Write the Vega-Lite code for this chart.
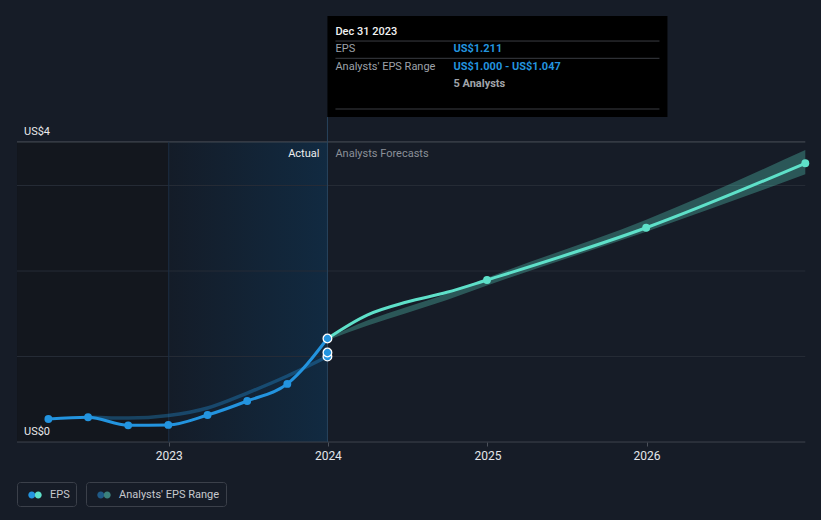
{
  "$schema": "https://vega.github.io/schema/vega-lite/v6.json",
  "autosize": {"type": "fit", "contains": "padding"},
  "width": 821,
  "height": 520,
  "padding": 0,
  "background": "#161c27",
  "data": {"values": [{}]},
  "datasets": {
    "eps": [
      {"date": "2022-03-31", "eps": 0.27},
      {"date": "2022-06-30", "eps": 0.29},
      {"date": "2022-09-30", "eps": 0.195},
      {"date": "2022-12-31", "eps": 0.2},
      {"date": "2023-03-31", "eps": 0.316},
      {"date": "2023-06-30", "eps": 0.48},
      {"date": "2023-09-30", "eps": 0.68},
      {"date": "2023-12-31", "eps": 1.211}
    ],
    "forecast": [
      {"date": "2023-12-31", "eps": 1.211, "low": 1.19, "high": 1.215},
      {"date": "2024-03-31", "eps": 1.485, "low": 1.36, "high": 1.42},
      {"date": "2024-06-30", "eps": 1.637, "low": 1.51, "high": 1.58},
      {"date": "2024-09-30", "eps": 1.751, "low": 1.66, "high": 1.735},
      {"date": "2024-12-31", "eps": 1.895, "low": 1.83, "high": 1.92},
      {"date": "2025-12-31", "eps": 2.506, "low": 2.46, "high": 2.6},
      {"date": "2026-12-31", "eps": 3.26, "low": 3.131, "high": 3.415}
    ],
    "pastEstimate": [
      {"date": "2022-06-30", "est": 0.29},
      {"date": "2022-09-30", "est": 0.28},
      {"date": "2022-12-31", "est": 0.31},
      {"date": "2023-03-31", "est": 0.398},
      {"date": "2023-06-30", "est": 0.573},
      {"date": "2023-09-30", "est": 0.772},
      {"date": "2023-12-31", "est": 1.0}
    ],
    "decPoints": [
      {"date": "2023-12-31", "v": 1.0},
      {"date": "2023-12-31", "v": 1.047},
      {"date": "2023-12-31", "v": 1.211}
    ],
    "grid": [{"v": 1}, {"v": 2}, {"v": 3}],
    "yLabels": [{"v": 3.51, "label": "US$4"}, {"v": 0, "label": "US$0"}],
    "tooltip": [
      {"date": "2023-12-31", "title": "Dec 31 2023", "epsLabel": "EPS", "epsValue": "US$1.211", "rangeLabel": "Analysts' EPS Range", "rangeValue": "US$1.000 - US$1.047", "analysts": "5 Analysts", "actual": "Actual", "forecasts": "Analysts Forecasts"}
    ]
  },
  "layer": [
    {
      "mark": {"type": "rect", "color": "#13171e"},
      "encoding": {
        "x": {"datum": {"year": 2022, "month": 1, "date": 18, "utc": true}, "type": "temporal", "scale": {"type": "utc", "domain": [{"year": 2021, "month": 12, "date": 10, "utc": true}, {"year": 2027, "month": 2, "date": 5, "utc": true}], "nice": false}, "axis": {"title": null, "values": [{"year": 2023, "month": 1, "date": 1, "utc": true}, {"year": 2024, "month": 1, "date": 1, "utc": true}, {"year": 2025, "month": 1, "date": 1, "utc": true}, {"year": 2026, "month": 1, "date": 1, "utc": true}], "format": "%Y", "domain": false, "grid": false, "offset": -78, "tickSize": 4, "tickColor": "#4b505a", "labelColor": "#e4e6ea", "labelFont": "Roboto", "labelFontSize": 12, "labelPadding": 4, "labelFlush": false, "labelOverlap": false}},
        "x2": {"datum": {"year": 2023, "month": 1, "date": 1, "utc": true}},
        "y": {"datum": 0, "type": "quantitative", "scale": {"domain": [-0.912, 5.17], "nice": false, "zero": false}, "axis": null},
        "y2": {"datum": 3.51}
      }
    },
    {
      "mark": {"type": "rect", "color": {"gradient": "linear", "x1": 0, "y1": 0, "x2": 1, "y2": 0, "stops": [{"offset": 0, "color": "#141c28"}, {"offset": 1, "color": "#112a41"}]}},
      "encoding": {
        "x": {"datum": {"year": 2023, "month": 1, "date": 1, "utc": true}, "type": "temporal"},
        "x2": {"datum": {"year": 2023, "month": 12, "date": 31, "utc": true}},
        "y": {"datum": 0, "type": "quantitative"},
        "y2": {"datum": 3.51}
      }
    },
    {
      "data": {"name": "grid"},
      "mark": {"type": "rule", "color": "#262c36", "strokeWidth": 1},
      "encoding": {
        "x": {"datum": {"year": 2022, "month": 1, "date": 18, "utc": true}, "type": "temporal"},
        "x2": {"datum": {"year": 2026, "month": 12, "date": 31, "utc": true}},
        "y": {"field": "v", "type": "quantitative"}
      }
    },
    {
      "mark": {"type": "rule", "color": "#4b5059", "strokeWidth": 1},
      "encoding": {
        "x": {"datum": {"year": 2022, "month": 1, "date": 18, "utc": true}, "type": "temporal"},
        "x2": {"datum": {"year": 2026, "month": 12, "date": 31, "utc": true}},
        "y": {"datum": 3.51, "type": "quantitative"}
      }
    },
    {
      "mark": {"type": "rule", "color": "#3f444e", "strokeWidth": 1},
      "encoding": {
        "x": {"datum": {"year": 2022, "month": 1, "date": 18, "utc": true}, "type": "temporal"},
        "x2": {"datum": {"year": 2026, "month": 12, "date": 31, "utc": true}},
        "y": {"datum": 0, "type": "quantitative"}
      }
    },
    {
      "mark": {"type": "rule", "color": "#1c2f43", "strokeWidth": 1},
      "encoding": {
        "x": {"datum": {"year": 2023, "month": 1, "date": 1, "utc": true}, "type": "temporal"},
        "y": {"datum": 0, "type": "quantitative"},
        "y2": {"datum": 3.51}
      }
    },
    {
      "mark": {"type": "rule", "color": "#28435d", "strokeWidth": 1},
      "encoding": {
        "x": {"datum": {"year": 2023, "month": 12, "date": 31, "utc": true}, "type": "temporal"},
        "y": {"datum": 0, "type": "quantitative"},
        "y2": {"datum": 3.801}
      }
    },
    {
      "data": {"name": "forecast"},
      "mark": {"type": "area", "interpolate": "monotone", "fill": "#5ee0c9", "fillOpacity": 0.3},
      "encoding": {
        "x": {"field": "date", "type": "temporal"},
        "y": {"field": "low", "type": "quantitative"},
        "y2": {"field": "high"}
      }
    },
    {
      "data": {"name": "pastEstimate"},
      "mark": {"type": "line", "interpolate": "monotone", "opacity": 0.35, "strokeWidth": 3.5},
      "encoding": {
        "x": {"field": "date", "type": "temporal"},
        "y": {"field": "est", "type": "quantitative"},
        "stroke": {
          "datum": "Analysts' EPS Range",
          "scale": {"domain": ["Analysts' EPS Range"], "range": ["#2394df"]},
          "legend": {
            "title": null, "orient": "none", "legendX": 86, "legendY": 482,
            "labelExpr": "datum.label + '\u00a0\u00a0'",
            "symbolOpacity": 1,
            "encode": {"symbols": {"update": {
              "fill": {"value": {"gradient": "linear", "x1": 0, "y1": 0, "x2": 1, "y2": 0, "stops": [{"offset": 0, "color": "#1f5a87"}, {"offset": 0.5, "color": "#1f5a87"}, {"offset": 0.5, "color": "#3b817c"}, {"offset": 1, "color": "#3b817c"}]}},
              "opacity": {"value": 1}, "fillOpacity": {"value": 1}
            }}}
          }
        }
      }
    },
    {
      "data": {"name": "eps"},
      "mark": {"type": "line", "interpolate": "monotone", "strokeWidth": 3},
      "encoding": {
        "x": {"field": "date", "type": "temporal"},
        "y": {"field": "eps", "type": "quantitative"},
        "color": {
          "datum": "EPS",
          "scale": {"domain": ["EPS"], "range": ["#2394df"]},
          "legend": {
            "title": null, "orient": "none", "legendX": 17, "legendY": 482,
            "labelExpr": "datum.label + '\u00a0\u00a0'",
            "encode": {"symbols": {"update": {
              "fill": {"value": {"gradient": "linear", "x1": 0, "y1": 0, "x2": 1, "y2": 0, "stops": [{"offset": 0, "color": "#2394df"}, {"offset": 0.5, "color": "#2394df"}, {"offset": 0.5, "color": "#5ee0c9"}, {"offset": 1, "color": "#5ee0c9"}]}},
              "opacity": {"value": 1}, "fillOpacity": {"value": 1}
            }}}
          }
        }
      }
    },
    {
      "data": {"name": "forecast"},
      "mark": {"type": "line", "interpolate": "monotone", "strokeWidth": 3, "color": "#5ee0c9"},
      "encoding": {
        "x": {"field": "date", "type": "temporal"},
        "y": {"field": "eps", "type": "quantitative"}
      }
    },
    {
      "data": {"name": "eps"},
      "mark": {"type": "point", "filled": true, "size": 62, "opacity": 1, "color": "#2394df"},
      "encoding": {
        "x": {"field": "date", "type": "temporal"},
        "y": {"field": "eps", "type": "quantitative"}
      }
    },
    {
      "data": {"name": "forecast"},
      "transform": [{"filter": "+toDate(datum.date) >= utc(2024, 11, 30)"}],
      "mark": {"type": "point", "filled": true, "size": 62, "opacity": 1, "color": "#5ee0c9"},
      "encoding": {
        "x": {"field": "date", "type": "temporal"},
        "y": {"field": "eps", "type": "quantitative"}
      }
    },
    {
      "data": {"name": "decPoints"},
      "mark": {"type": "point", "filled": true, "size": 75, "opacity": 1, "fill": "#2394df", "stroke": "#ffffff", "strokeWidth": 1.3, "strokeOpacity": 1},
      "encoding": {
        "x": {"field": "date", "type": "temporal"},
        "y": {"field": "v", "type": "quantitative"}
      }
    },
    {
      "data": {"name": "yLabels"},
      "mark": {"type": "text", "align": "left", "baseline": "bottom", "dx": 7, "dy": -5, "font": "Roboto", "fontSize": 11, "color": "#e8e9eb"},
      "encoding": {
        "x": {"datum": {"year": 2022, "month": 1, "date": 18, "utc": true}, "type": "temporal"},
        "y": {"field": "v", "type": "quantitative"},
        "text": {"field": "label"}
      }
    },
    {
      "data": {"name": "tooltip"},
      "mark": {"type": "text", "align": "right", "baseline": "middle", "dx": -8, "dy": 12, "font": "Roboto", "fontSize": 11, "color": "#eceef0"},
      "encoding": {
        "x": {"field": "date", "type": "temporal"},
        "y": {"datum": 3.51, "type": "quantitative"},
        "text": {"field": "actual"}
      }
    },
    {
      "data": {"name": "tooltip"},
      "mark": {"type": "text", "align": "left", "baseline": "middle", "dx": 8, "dy": 12, "font": "Roboto", "fontSize": 11, "color": "#8b9098"},
      "encoding": {
        "x": {"field": "date", "type": "temporal"},
        "y": {"datum": 3.51, "type": "quantitative"},
        "text": {"field": "forecasts"}
      }
    },
    {
      "data": {"name": "tooltip"},
      "mark": {"type": "rect", "color": "#000000", "x2Offset": 340},
      "encoding": {
        "x": {"field": "date", "type": "temporal"},
        "x2": {"field": "date"},
        "y": {"datum": 4.982, "type": "quantitative"},
        "y2": {"datum": 3.801}
      }
    },
    {
      "data": {"name": "tooltip"},
      "mark": {"type": "rule", "color": "#3a3d43", "strokeWidth": 1, "xOffset": 8, "x2Offset": 332},
      "encoding": {
        "x": {"field": "date", "type": "temporal"},
        "x2": {"field": "date"},
        "y": {"datum": 4.69, "type": "quantitative"}
      }
    },
    {
      "data": {"name": "tooltip"},
      "mark": {"type": "rule", "color": "#3a3d43", "strokeWidth": 1, "xOffset": 8, "x2Offset": 332},
      "encoding": {
        "x": {"field": "date", "type": "temporal"},
        "x2": {"field": "date"},
        "y": {"datum": 4.488, "type": "quantitative"}
      }
    },
    {
      "data": {"name": "tooltip"},
      "mark": {"type": "rule", "color": "#3a3d43", "strokeWidth": 1, "xOffset": 8, "x2Offset": 332},
      "encoding": {
        "x": {"field": "date", "type": "temporal"},
        "x2": {"field": "date"},
        "y": {"datum": 3.895, "type": "quantitative"}
      }
    },
    {
      "data": {"name": "tooltip"},
      "mark": {"type": "text", "align": "left", "baseline": "middle", "dx": 8, "dy": 1, "font": "Roboto", "fontSize": 11, "fontWeight": 500, "color": "#f2f2f2"},
      "encoding": {
        "x": {"field": "date", "type": "temporal"},
        "y": {"datum": 4.807, "type": "quantitative"},
        "text": {"field": "title"}
      }
    },
    {
      "data": {"name": "tooltip"},
      "mark": {"type": "text", "align": "left", "baseline": "middle", "dx": 8, "dy": 1, "font": "Roboto", "fontSize": 11, "color": "#9ea2a9"},
      "encoding": {
        "x": {"field": "date", "type": "temporal"},
        "y": {"datum": 4.608, "type": "quantitative"},
        "text": {"field": "epsLabel"}
      }
    },
    {
      "data": {"name": "tooltip"},
      "mark": {"type": "text", "align": "left", "baseline": "middle", "dx": 8, "dy": 1, "font": "Roboto", "fontSize": 11, "color": "#9ea2a9"},
      "encoding": {
        "x": {"field": "date", "type": "temporal"},
        "y": {"datum": 4.398, "type": "quantitative"},
        "text": {"field": "rangeLabel"}
      }
    },
    {
      "data": {"name": "tooltip"},
      "mark": {"type": "text", "align": "left", "baseline": "middle", "dx": 126, "dy": 1, "font": "Roboto", "fontSize": 11, "fontWeight": "bold", "color": "#2394df"},
      "encoding": {
        "x": {"field": "date", "type": "temporal"},
        "y": {"datum": 4.608, "type": "quantitative"},
        "text": {"field": "epsValue"}
      }
    },
    {
      "data": {"name": "tooltip"},
      "mark": {"type": "text", "align": "left", "baseline": "middle", "dx": 126, "dy": 1, "font": "Roboto", "fontSize": 11, "fontWeight": "bold", "color": "#2394df"},
      "encoding": {
        "x": {"field": "date", "type": "temporal"},
        "y": {"datum": 4.398, "type": "quantitative"},
        "text": {"field": "rangeValue"}
      }
    },
    {
      "data": {"name": "tooltip"},
      "mark": {"type": "text", "align": "left", "baseline": "middle", "dx": 126, "dy": 1, "font": "Roboto", "fontSize": 11, "fontWeight": "bold", "color": "#a0a4aa"},
      "encoding": {
        "x": {"field": "date", "type": "temporal"},
        "y": {"datum": 4.199, "type": "quantitative"},
        "text": {"field": "analysts"}
      }
    }
  ],
  "config": {
    "view": {"stroke": null},
    "legend": {
      "direction": "horizontal",
      "padding": 6,
      "strokeColor": "#3b404a",
      "cornerRadius": 3,
      "symbolType": "M-0.96,0A0.5,0.5,0,1,0,0.04,0A0.5,0.5,0,1,0,-0.96,0ZM-0.04,0A0.5,0.5,0,1,0,0.96,0A0.5,0.5,0,1,0,-0.04,0Z",
      "symbolSize": 196,
      "symbolOffset": 5,
      "symbolStrokeWidth": 0,
      "labelOffset": 8,
      "labelFont": "Roboto",
      "labelFontSize": 11,
      "labelColor": "#c6c9ce"
    }
  }
}
